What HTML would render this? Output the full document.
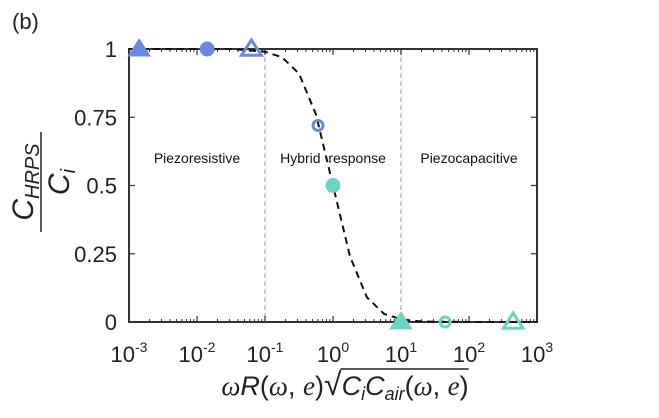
<!DOCTYPE html>
<html><head><meta charset="utf-8"><style>
body{margin:0;background:#fff;width:659px;height:413px;overflow:hidden}
svg{font-family:"Liberation Sans",sans-serif}
</style></head><body>
<svg id="chart" width="659" height="413">
<text x="12" y="29" font-size="22" fill="#222">(b)</text>
<g transform="translate(41,182) rotate(-90)">
<text x="0" y="-8" text-anchor="middle" font-size="30" font-style="italic" fill="#222">C<tspan font-size="20" dy="6">HRPS</tspan></text>
<line x1="-50" x2="50" y1="0" y2="0" stroke="#222" stroke-width="1.5"/>
<text x="0" y="28" text-anchor="middle" font-size="30" font-style="italic" fill="#222">C<tspan font-size="20" dy="6">i</tspan></text>
</g>
<text id="xt" x="345" y="395" text-anchor="middle" font-size="27" fill="#222"><tspan font-family="Liberation Serif" font-style="italic">ω</tspan><tspan font-style="italic">R</tspan>(<tspan font-family="Liberation Serif" font-style="italic">ω</tspan>, <tspan font-family="Liberation Serif" font-style="italic">e</tspan>)<tspan font-size="32">√</tspan><tspan id="rad" font-style="italic">C<tspan font-size="18" dy="5">i</tspan><tspan dy="-5">C</tspan><tspan font-size="18" dy="5">air</tspan></tspan><tspan dy="-5">(</tspan><tspan font-family="Liberation Serif" font-style="italic">ω</tspan>, <tspan font-family="Liberation Serif" font-style="italic">e</tspan>)</text>
<line id="sqbar" x1="410" x2="506" y1="363" y2="363" stroke="#222" stroke-width="1.5"/>
<g id="plot"></g>
</svg>
<script>
const xTicks=[-3,-2,-1,0,1,2,3];
const yTicks=[0,0.25,0.5,0.75,1];
const yTickLabels=["0","0.25","0.5","0.75","1"];
const curveLogX=[-3,-2,-1.5,-1,-0.75,-0.5,-0.25,0,0.25,0.5,0.75,1,1.25,1.5,2,3];
const curveY=[1,1,1,0.99,0.97,0.91,0.76,0.5,0.24,0.09,0.03,0.01,0.003,0.001,0,0];
const seriesLogX=[-2.85,-1.85,-1.2,-0.22,0.0,1.0,1.65,2.65];
const seriesY=[1,1,1,0.72,0.5,0,0,0];
const seriesShape=["tri-fill","circ-fill","tri-open","circ-open","circ-fill","tri-fill","circ-open","tri-open"];
const seriesColor=["#6a8ae0","#6a8ae0","#6a8ae0","#6a8ae0","#6fd3c1","#6fd3c1","#6fd3c1","#6fd3c1"];
const regionBounds=[-1,1];
const regionLabels=["Piezoresistive","Hybrid\u00a0\u00a0response","Piezocapacitive"];
const regionCenters=[-2,0,2];

const X0=129,X1=537,Y0=322,Y1=49;
const sx=v=>X0+(v+3)/6*(X1-X0);
const sy=v=>Y0-v*(Y0-Y1);
const NS="http://www.w3.org/2000/svg";
const g=document.getElementById('plot');
function mk(t,a,p){const e=document.createElementNS(NS,t);for(const k in a)e.setAttribute(k,a[k]);(p||g).appendChild(e);return e;}
regionBounds.forEach(b=>{const l=mk('line',{x1:sx(b),x2:sx(b),y1:Y1,y2:Y0,stroke:'#bbb','stroke-width':1.5,'stroke-dasharray':'5,3'});

});
regionLabels.forEach((t,i)=>{const e=mk('text',{x:sx(regionCenters[i]),y:163,'text-anchor':'middle','font-size':14,fill:'#111'});e.textContent=t;

});
const fr=mk('rect',{x:X0,y:Y1,width:X1-X0,height:Y0-Y1,fill:'none',stroke:'#333','stroke-width':2});


xTicks.forEach(t=>{
 [Y0,Y1].forEach((yy,k)=>{mk('line',{x1:sx(t),x2:sx(t),y1:yy,y2:k?yy+6:yy-6,stroke:'#333','stroke-width':1.2});});
 if(t<3)for(let m=2;m<10;m++){const x=sx(t+Math.log10(m));[Y0,Y1].forEach((yy,k)=>mk('line',{x1:x,x2:x,y1:yy,y2:k?yy+3:yy-3,stroke:'#333','stroke-width':1}));}
 const e=mk('text',{x:sx(t),y:362,'text-anchor':'middle','font-size':22,fill:'#222'});
 e.innerHTML='10<tspan font-size="14" dy="-10">'+t+'</tspan>';
 
 
});
yTicks.forEach((t,i)=>{
 mk('line',{x1:X0,x2:X0+6,y1:sy(t),y2:sy(t),stroke:'#333','stroke-width':1.2});
 mk('line',{x1:X1,x2:X1-6,y1:sy(t),y2:sy(t),stroke:'#333','stroke-width':1.2});
 const e=mk('text',{x:117,y:sy(t)+8,'text-anchor':'end','font-size':22,fill:'#222'});e.textContent=yTickLabels[i];
 
 
});
const pts=curveLogX.map((v,i)=>sx(v)+','+sy(curveY[i])).join(' ');
const c=mk('polyline',{points:pts,fill:'none',stroke:'#111','stroke-width':2,'stroke-dasharray':'7,5'});


seriesLogX.forEach((v,i)=>{
 const x=sx(v),y=sy(seriesY[i]),col=seriesColor[i],s=seriesShape[i];let e;
 if(s.startsWith('tri')){const open=s.endsWith('open');const r=open?9:10;
  e=mk('polygon',{points:`${x},${y-r} ${x-r*1.1},${y+r*0.7} ${x+r*1.1},${y+r*0.7}`,fill:open?'none':col,stroke:col,'stroke-width':open?3:1});}
 else{const open=s.endsWith('open');e=mk('circle',{cx:x,cy:y,r:open?5:7,fill:open?'none':col,stroke:col,'stroke-width':open?3:1});}
 
 
});
// sqrt bar over radicand through closing paren
try{
 const xt=document.getElementById('xt');const bb=xt.getBBox();
 const rad=document.getElementById('rad');
 const n=xt.getNumberOfChars();
 const txt=xt.textContent;const si=txt.indexOf('√');
 const s=xt.getExtentOfChar(si);
 const bar=document.getElementById('sqbar');
 bar.setAttribute('x1',s.x+s.width-1);bar.setAttribute('x2',bb.x+bb.width);
 bar.setAttribute('y1',s.y+3);bar.setAttribute('y2',s.y+3);
}catch(e){}
</script>
</body></html>
